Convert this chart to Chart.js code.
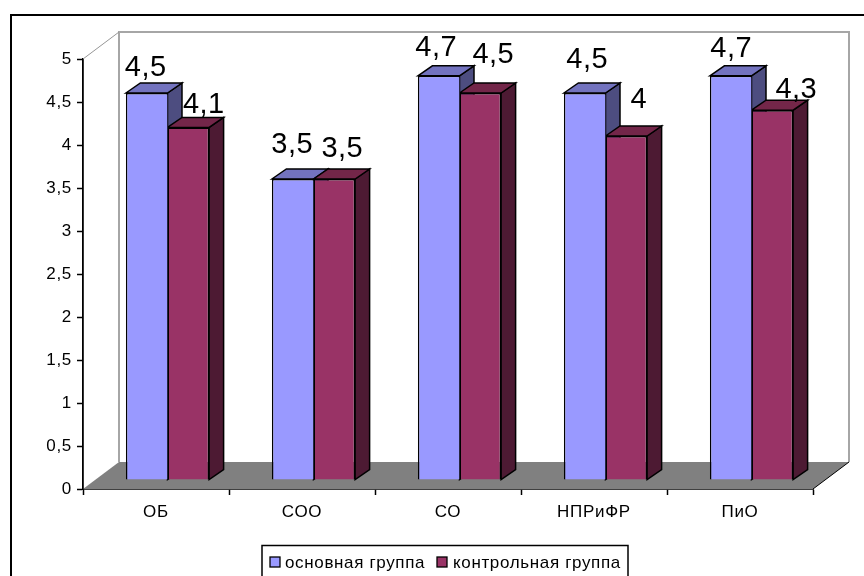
<!DOCTYPE html>
<html>
<head>
<meta charset="utf-8">
<style>
html, body { margin: 0; padding: 0; background: #fff; }
#wrap { width: 864px; height: 576px; }
</style>
<script src="https://cdn.jsdelivr.net/npm/chart.js@4"></script>
</head>
<body>
<div id="wrap"><canvas id="chart" width="864" height="576"></canvas></div>
<script>
var categories = ['ОБ', 'СОО', 'СО', 'НПРиФР', 'ПиО'];
var mainGroup = [4.5, 3.5, 4.7, 4.5, 4.7];
var controlGroup = [4.1, 3.5, 4.5, 4, 4.3];
var yTicks = ['0', '0,5', '1', '1,5', '2', '2,5', '3', '3,5', '4', '4,5', '5'];

// hand-moved labels: [x from bar centre, baseline lift above bar top]
var labelMoveMain = [[-1, 17], [-0.5, 26], [-2.5, 20], [2.5, 25], [0.5, 19]];
var labelMoveControl = [[15.5, 14], [8, 22], [13, 30], [12.5, 28], [24, 12]];

var FONT = '"Liberation Sans", Arial, sans-serif';
var depthX = 36, depthY = 27;    // wall depth
var barDX = 14.5, barDY = 10;    // bar depth
var shiftX = 11.5, shiftY = 9;   // bars stand in the middle of the floor

function poly(ctx, pts, fill, stroke, lw) {
	ctx.beginPath();
	ctx.moveTo(pts[0][0], pts[0][1]);
	for (var i = 1; i < pts.length; i++) ctx.lineTo(pts[i][0], pts[i][1]);
	if (fill) { ctx.closePath(); ctx.fillStyle = fill; ctx.fill(); }
	if (stroke) { ctx.strokeStyle = stroke; ctx.lineWidth = lw; ctx.stroke(); }
}

// frame, back wall and floor
var backdrop = {
	id: 'backdrop',
	beforeDraw: function(chart) {
		// the picture's text is a little stretched
		chart.ctx.letterSpacing = '0.7px';
	},
	beforeDatasetsDraw: function(chart) {
		var ctx = chart.ctx, a = chart.chartArea;
		var l = a.left, r = a.right, t = a.top, b = a.bottom;
		poly(ctx, [[864, 15], [11, 15], [11, 576]], null, '#000', 2);
		poly(ctx, [[l, b], [l + depthX, b - depthY], [r + depthX, b - depthY], [r, b]], '#808080');
		poly(ctx, [[l + depthX, b - depthY], [l + depthX, t - depthY], [r + depthX, t - depthY], [r + depthX, b - depthY]], null, '#A6A6A6', 2);
		poly(ctx, [[l, t], [l + depthX, t - depthY]], null, '#969696', 1);
		poly(ctx, [[r, b], [r + depthX, b - depthY]], null, '#000', 1);

		// sides and tops of the bars, first series behind the second
		ctx.save();
		ctx.translate(shiftX, -shiftY);
		[[0, '#7373BF', '#4D4D80'], [1, '#732649', '#4D1A33']].forEach(function(s) {
			chart.getDatasetMeta(s[0]).data.forEach(function(bar) {
				var x0 = bar.x - bar.width / 2, x1 = bar.x + bar.width / 2;
				poly(ctx, [[x1, bar.y], [x1 + barDX, bar.y - barDY], [x1 + barDX, bar.base - barDY], [x1, bar.base]], s[2], '#000', 1.5);
				poly(ctx, [[x0, bar.y], [x0 + barDX, bar.y - barDY], [x1 + barDX, bar.y - barDY], [x1, bar.y]], s[1], '#000', 1.5);
			});
		});
		ctx.restore();

		ctx.save();
		ctx.translate(shiftX, -shiftY);
	},
	afterDatasetsDraw: function(chart) {
		chart.ctx.restore();
	}
};

// the big value labels and the boxed legend
var labelsAndLegend = {
	id: 'labelsAndLegend',
	afterDraw: function(chart) {
		var ctx = chart.ctx;
		ctx.save();
		ctx.fillStyle = '#000';
		ctx.font = '29px ' + FONT;
		ctx.letterSpacing = '0.5px';
		ctx.textAlign = 'center';
		ctx.textBaseline = 'alphabetic';
		[labelMoveMain, labelMoveControl].forEach(function(moves, d) {
			chart.getDatasetMeta(d).data.forEach(function(bar, i) {
				var txt = String(chart.data.datasets[d].data[i]).replace('.', ',');
				ctx.fillText(txt, bar.x + shiftX + moves[i][0], bar.y - shiftY - moves[i][1]);
			});
		});

		// bottom of the legend box runs off the picture
		poly(ctx, [[262, 576], [262, 545.5], [628, 545.5], [628, 576]], null, '#000', 1.5);
		var items = [[270, 285], [437, 453]];
		ctx.font = '17px ' + FONT;
		ctx.letterSpacing = '0.65px';
		ctx.textAlign = 'left';
		chart.data.datasets.forEach(function(ds, i) {
			ctx.fillStyle = ds.backgroundColor;
			ctx.fillRect(items[i][0], 557, 10, 10);
			ctx.strokeStyle = '#000';
			ctx.lineWidth = 1.3;
			ctx.strokeRect(items[i][0], 557, 10, 10);
			ctx.fillStyle = '#000';
			ctx.fillText(ds.label, items[i][1], 568);
		});
		ctx.restore();
	}
};

var chart = new Chart(document.getElementById('chart'), {
	type: 'bar',
	data: {
		labels: categories,
		datasets: [
			// no right border on the first series, the second one's left border does that line
			{ label: 'основная группа', data: mainGroup, backgroundColor: '#9999FF', borderColor: '#000', borderWidth: { top: 1.5, left: 1.5, bottom: 1.5, right: 0 } },
			{ label: 'контрольная группа', data: controlGroup, backgroundColor: '#993366', borderColor: '#000', borderWidth: 1.5 }
		]
	},
	options: {
		responsive: false,
		animation: false,
		layout: { padding: { left: 0, top: 59, right: 51, bottom: 0 } },
		datasets: { bar: { categoryPercentage: 0.57, barPercentage: 1 } },
		plugins: { legend: { display: false }, title: { display: false }, tooltip: { enabled: false } },
		scales: {
			x: {
				afterFit: function(s) { s.height = 87; },
				grid: { offset: true, drawOnChartArea: false, tickLength: 6, color: '#000', tickWidth: 1.5 },
				border: { color: '#000', width: 1.8 },
				ticks: { color: '#000', font: { family: FONT, size: 17 }, padding: 7, maxRotation: 0 }
			},
			y: {
				min: 0,
				max: 5,
				afterFit: function(s) { s.width = 83; },
				grid: { drawOnChartArea: false, tickLength: 6, color: '#000', tickWidth: 1.5 },
				border: { color: '#000', width: 1.8 },
				ticks: {
					stepSize: 0.5,
					color: '#000',
					padding: 5,
					font: { family: FONT, size: 17 },
					callback: function(v, i) { return yTicks[i]; }
				}
			}
		}
	},
	plugins: [backdrop, labelsAndLegend]
});
</script>
</body>
</html>
